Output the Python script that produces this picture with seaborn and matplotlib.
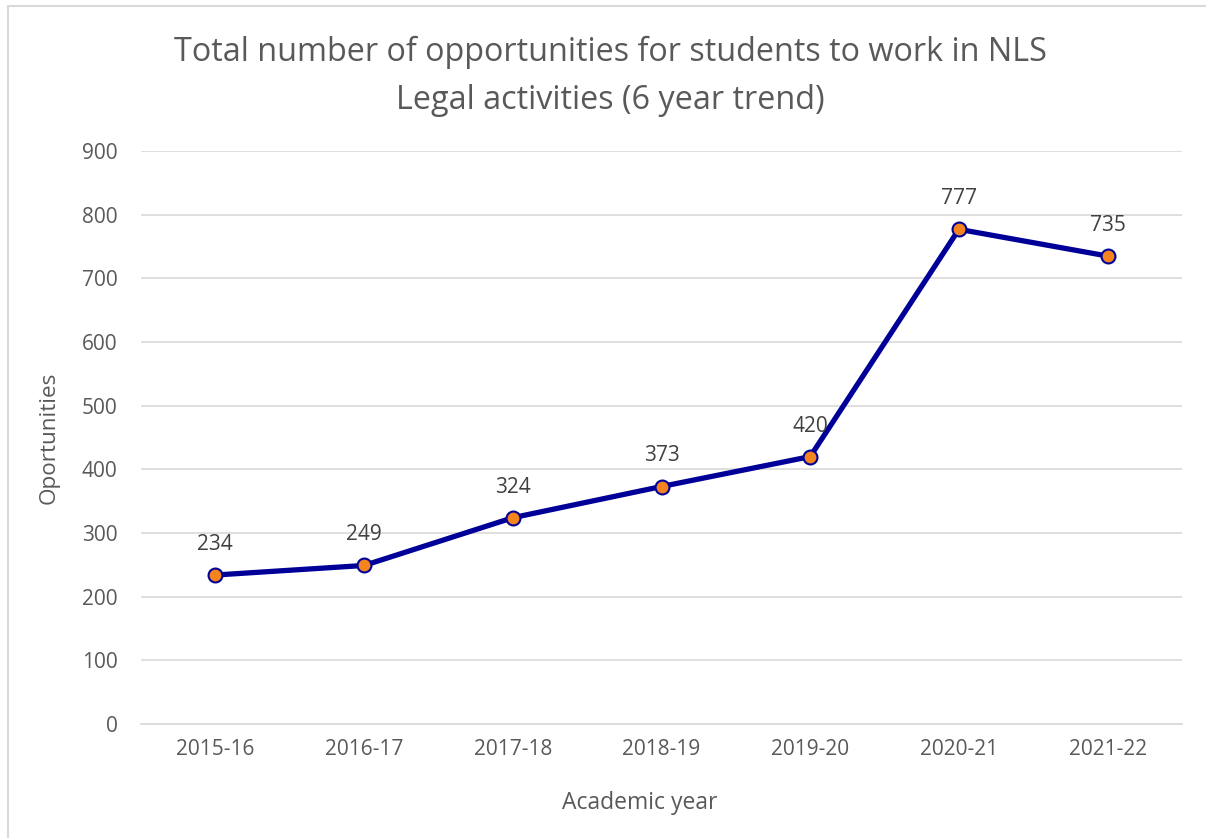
import matplotlib
matplotlib.use("Agg")
import matplotlib.pyplot as plt
import seaborn as sns
import pandas as pd
from matplotlib.patches import Rectangle

years = ["2015-16", "2016-17", "2017-18", "2018-19", "2019-20", "2020-21", "2021-22"]
opportunities = [234, 249, 324, 373, 420, 777, 735]
y_ticks = [0, 100, 200, 300, 400, 500, 600, 700, 800, 900]

sns.set_theme(style="white")
plt.rcParams["font.family"] = ["Open Sans", "DejaVu Sans"]

TXT = "#595959"
fig = plt.figure(figsize=(12.06, 8.38), dpi=100)
ax = fig.add_axes([141/1206, 1-724/838, (1182-141)/1206, (724-151)/838])

df = pd.DataFrame({"year": years, "val": opportunities})
df["x"] = range(len(years))
sns.lineplot(data=df, x="x", y="val", ax=ax, color="#000099", linewidth=3.8,
             marker="o", markersize=10, markerfacecolor="#F5841F",
             markeredgecolor="#000099", markeredgewidth=1.5, zorder=3)

ax.set_xlim(-0.5, len(years) - 0.5)
ax.set_ylim(0, 900)
ax.set_yticks(y_ticks)
ax.set_yticklabels([str(v) for v in y_ticks])
ax.set_xticks(range(len(years)))
ax.set_xticklabels(years)
ax.tick_params(axis="both", length=0, labelsize=15, colors=TXT)
ax.tick_params(axis="y", pad=17)
ax.tick_params(axis="x", pad=11)
ax.grid(axis="y", color="#D9D9D9", linewidth=1.2)
ax.set_axisbelow(True)
for s in ["left", "right", "top"]:
    ax.spines[s].set_visible(False)
ax.spines["bottom"].set_color("#D9D9D9")
ax.spines["bottom"].set_linewidth(1.2)

for i, v in enumerate(opportunities):
    ax.annotate(str(v), (i, v), xytext=(0, 22), textcoords="offset points",
                ha="center", va="center", fontsize=15, color="#404040")

ax.set_xlabel("Academic year", fontsize=16.5, color=TXT)
ax.xaxis.set_label_coords((640-141)/1041, -(803-724)/573, transform=ax.transAxes)
ax.xaxis.label.set_va("center")
ax.set_ylabel("Oportunities", fontsize=16.2, color=TXT, labelpad=16)

fig.text(610/1206, 1-76/838, "Total number of opportunities for students to work in NLS\nLegal activities (6 year trend)",
         ha="center", va="center", fontsize=23.3, color=TXT, linespacing=1.6)

fig.patches.append(Rectangle((8/1206, -0.1), 1.2, (838-6)/838 + 0.1, transform=fig.transFigure,
                             fill=False, edgecolor="#D9D9D9", linewidth=1.5))

fig.savefig("out.png", dpi=100, facecolor="white")
